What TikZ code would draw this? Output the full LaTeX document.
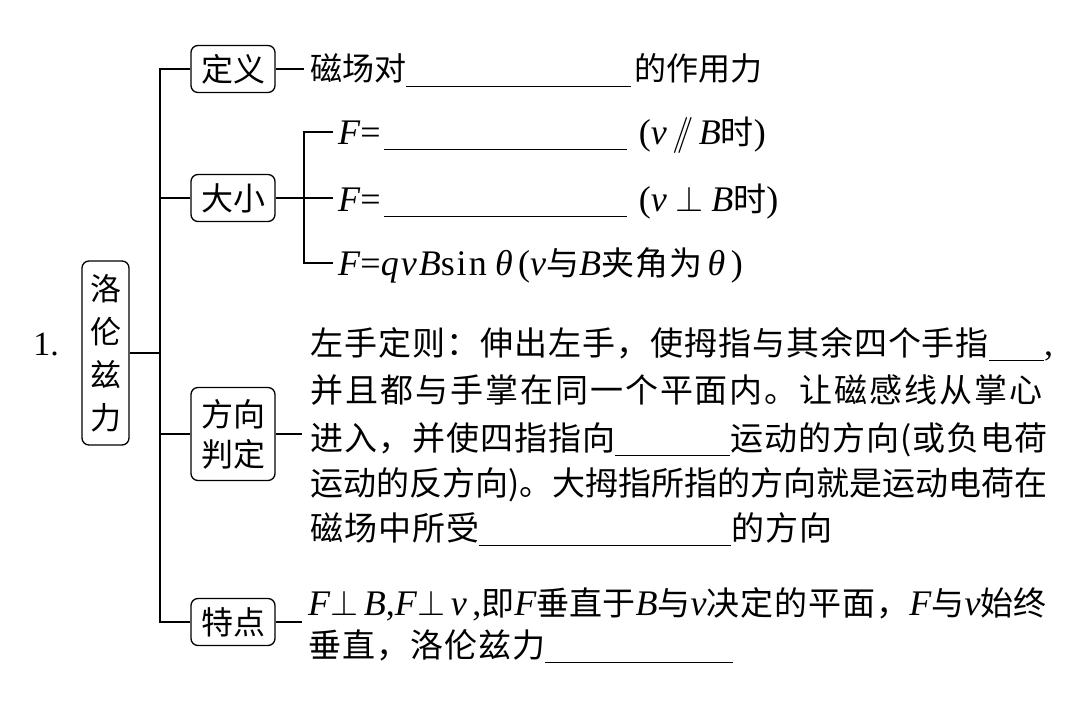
\RequirePackage{fix-cm}
\documentclass[tikz,border=0pt]{standalone}
\usepackage{fontspec}
\setmainfont{Liberation Serif}
\newfontfamily\cjk{Noto Sans CJK SC}
\newfontfamily\cjks{Noto Sans CJK SC}[LetterSpace=3]
\newfontfamily\cjkw{Noto Sans CJK SC}[LetterSpace=6]
\newcommand\blank[1]{\rule[-6pt]{#1pt}{1.4pt}}
\newcommand\vi[1]{{\fontsize{36}{40}\selectfont\textit{#1}}}
\newcommand\ru[1]{{\fontsize{36}{40}\selectfont #1}}
\tikzset{
  box/.style={draw, line width=1.3pt, rounded corners=7pt, minimum width=84pt,
    minimum height=47pt, inner sep=0pt, align=center,
    font=\cjk\fontsize{32}{40}\selectfont},
  txt/.style={anchor=base west, inner sep=0pt, font=\fontsize{33}{40}\selectfont},
  conn/.style={line width=1.3pt}
}
\begin{document}
\begin{tikzpicture}[x=1pt,y=-1pt]
\useasboundingbox (0,0) rectangle (1076,709);
% left
\node[font=\fontsize{34}{40}\selectfont] (num) at (46,345) {1.};
\node[box, minimum width=47pt, minimum height=184pt,
      font=\cjk\fontsize{31}{43}\selectfont] (root) at (105.5,353) {洛\\伦\\兹\\力};
\node[box] (def) at (233,69) {定义};
\node[box] (size) at (233,198) {大小};
\node[box, minimum height=93pt] (dir) at (233,434) {方向\\判定};
\node[box] (feat) at (233,622) {特点};
\coordinate (trunk) at (160,0);
\coordinate (brk) at (304,0);
% trunk
\draw[conn] (def.west) -- (def.west -| trunk) -- (feat.west -| trunk) -- (feat.west);
\draw[conn] (size.west) -- (size.west -| trunk);
\draw[conn] (dir.west) -- (dir.west -| trunk);
\draw[conn] (root.east) -- (root.east -| trunk);
% definition
\coordinate (defc) at (304,69);
\draw[conn] (def.east) -- (defc);
\node[txt, font=\fontsize{32}{40}\selectfont] (deft) at (310,81) {{\cjk 磁场对}\blank{225}\hspace{3pt}{\cjk 的作用力}};
% size
\node[txt] (f1) at (338,144) {\vi{F}\ru{=}\hspace{3pt}\blank{243}\hspace{12pt}\ru{(}\vi{v}\,\ru{$/\!\!/$}\,\vi{B}{\cjk 时}\ru{)}};
\node[txt] (f2) at (338,211) {\vi{F}\ru{=}\hspace{3pt}\blank{243}\hspace{12pt}\ru{(}\vi{v} \ru{$\perp$} \vi{B}{\cjk 时}\ru{)}};
\node[txt] (f3) at (338,275) {\vi{F}\ru{=}\vi{q\kern2pt v\kern2pt B}\ru{s\kern2pt i\kern2pt n} \vi{θ}\,\ru{(}\vi{v}{\cjk 与}\vi{B}{\cjks 夹角为}\,\vi{θ}\,\ru{)}};
\coordinate (f1c) at (333,132);
\coordinate (f2c) at (333,198);
\coordinate (f3c) at (333,263);
\draw[conn] (f1c) -- (f1c -| brk) -- (f3c -| brk) -- (f3c);
\draw[conn] (size.east) -- (f2c);
% direction
\coordinate (dirc) at (302,434);
\draw[conn] (dir.east) -- (dirc);
\node[txt] (d1) at (310,355) {{\cjks 左手定则：伸出左手，使拇指与其余四个手指}\blank{55}\ru{,}};
\node[txt] (d2) at (310,402) {{\cjkw 并且都与手掌在同一个平面内。让磁感线从掌心}};
\node[txt] (d3) at (310,450) {{\cjks 进入，并使四指指向}\blank{115}{\cjks 运动的方向(或负电荷}};
\node[txt] (d4) at (310,495) {{\cjk 运动的反方向)。大拇指所指的方向就是运动电荷在}};
\node[txt] (d5) at (310,540) {{\cjks 磁场中所受}\blank{252}{\cjks 的方向}};
% feature
\coordinate (featc) at (302,622);
\draw[conn] (feat.east) -- (featc);
\node[txt] (t1) at (308,615) {\vi{F}\ru{$\perp$}\,\vi{B}\ru{,}\vi{F}\ru{$\perp$}\,\vi{v}\,\ru{,}{\cjk 即}\vi{F}{\cjk 垂直于}\vi{B}{\cjk 与}\vi{v}{\cjks 决定的平面，}\vi{F}{\cjk 与}\vi{v}{\cjk 始终}};
\node[txt] (t2) at (308,657) {{\cjks 垂直，洛伦兹力}\blank{188}};
\end{tikzpicture}
\end{document}
